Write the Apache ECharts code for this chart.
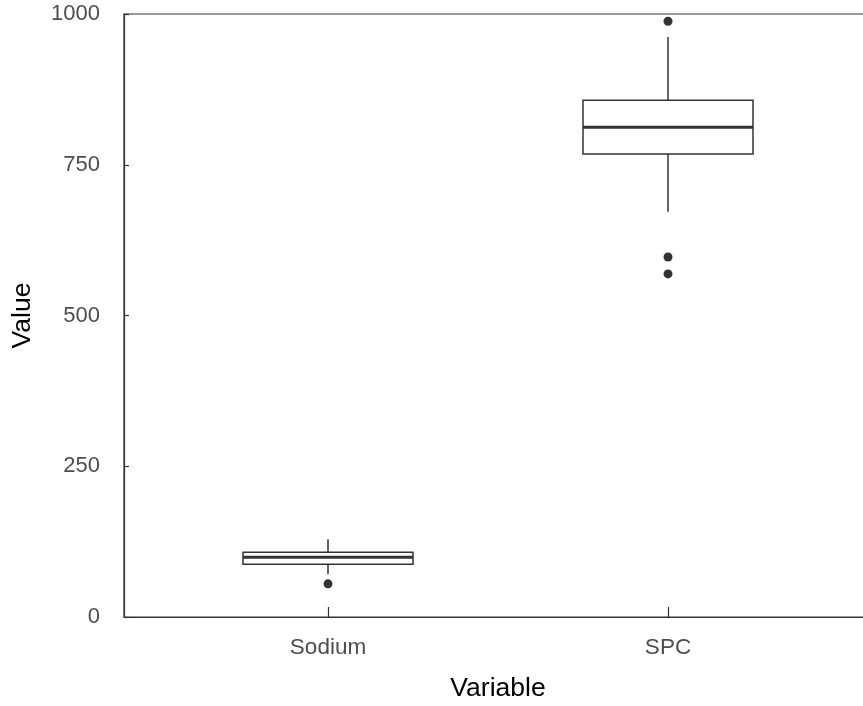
<!DOCTYPE html>
<html>
<head>
<meta charset="utf-8">
<script src="https://cdn.jsdelivr.net/npm/echarts@6/dist/echarts.min.js"></script>
<style>html,body{margin:0;padding:0;background:#fff}#c{width:863px;height:706px}</style>
</head>
<body>
<div id="c"></div>
<script>
var categories = ['Sodium', 'SPC'];
var positions = [1, 2];
// [min whisker, Q1, median, Q3, max whisker]
var sodiumStats = [71, 87.5, 99, 107.5, 129];
var spcStats = [672, 768, 812, 857, 962];
var outliers = [[1, 55], [2, 988], [2, 597], [2, 569]];
var yTicks = [0, 250, 500, 750, 1000];

var boxData = [
  [positions[0]].concat(sodiumStats),
  [positions[1]].concat(spcStats)
];

var chart = echarts.init(document.getElementById('c'));
var lineColor = '#333333';
var halfW = 0.25;
var font = 'Liberation Sans, Arial';

chart.setOption({
  animation: false,
  backgroundColor: '#ffffff',
  grid: {left: 124, top: 14, width: 748, height: 603, outerBoundsMode: 'none', containLabel: false,
         show: true, borderColor: lineColor, borderWidth: 1.2, backgroundColor: 'transparent'},
  xAxis: {
    type: 'value', min: 0.4, max: 2.6,
    splitLine: {show: false},
    axisLine: {show: true, lineStyle: {color: lineColor, width: 1.2}},
    axisTick: {show: true, inside: true, length: 10, customValues: positions, lineStyle: {color: lineColor, width: 1.2}},
    axisLabel: {
      customValues: positions, margin: 19, color: '#4d4d4d', fontSize: 22.5, fontFamily: font,
      formatter: function (v) { var i = positions.indexOf(Math.round(v)); return i >= 0 ? categories[i] : ''; }
    },
    name: 'Variable', nameLocation: 'middle', nameGap: 58,
    nameTextStyle: {color: '#000', fontSize: 26.5, fontFamily: font}
  },
  yAxis: {
    type: 'value', min: 0, max: 1000, interval: 250,
    splitLine: {show: false},
    axisLine: {show: true, lineStyle: {color: lineColor, width: 1.2}},
    axisTick: {show: true, inside: true, length: 5, lineStyle: {color: lineColor, width: 1.2}},
    axisLabel: {customValues: yTicks, margin: 24, color: '#4d4d4d', fontSize: 22, fontFamily: font,
      formatter: function (v) { return String(v); }},
    name: 'Value', nameLocation: 'middle', nameGap: 88, nameRotate: 90,
    nameTextStyle: {color: '#000', fontSize: 26.5, fontFamily: font}
  },
  series: [
    {
      type: 'custom',
      data: boxData,
      renderItem: function (params, api) {
        var x = api.value(0);
        var pMin = api.coord([x, api.value(1)]);
        var pQ1 = api.coord([x, api.value(2)]);
        var pMed = api.coord([x, api.value(3)]);
        var pQ3 = api.coord([x, api.value(4)]);
        var pMax = api.coord([x, api.value(5)]);
        var left = api.coord([x - halfW, 0])[0];
        var right = api.coord([x + halfW, 0])[0];
        var st = {stroke: lineColor, lineWidth: 1.5, fill: null};
        return {
          type: 'group',
          children: [
            {type: 'line', shape: {x1: pMax[0], y1: pMax[1], x2: pQ3[0], y2: pQ3[1]}, style: st},
            {type: 'line', shape: {x1: pQ1[0], y1: pQ1[1], x2: pMin[0], y2: pMin[1]}, style: st},
            {type: 'rect', shape: {x: left, y: pQ3[1], width: right - left, height: pQ1[1] - pQ3[1]}, style: {stroke: lineColor, lineWidth: 1.5, fill: '#ffffff'}},
            {type: 'line', shape: {x1: left, y1: pMed[1], x2: right, y2: pMed[1]}, style: {stroke: lineColor, lineWidth: 3}}
          ]
        };
      }
    },
    {
      type: 'scatter',
      data: outliers,
      symbol: 'circle',
      symbolSize: 9,
      itemStyle: {color: lineColor, opacity: 1}
    }
  ]
});
</script>
</body>
</html>
